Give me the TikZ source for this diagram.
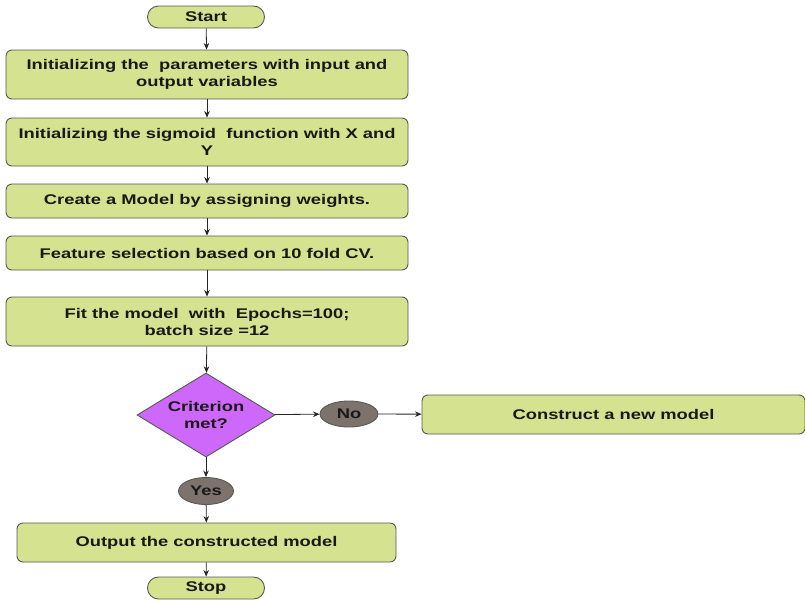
\documentclass[tikz,border=0pt]{standalone}
\usepackage{fontspec}
\setmainfont{Liberation Sans}[FakeStretch=1.31]
\usetikzlibrary{shapes.geometric,arrows.meta}
\definecolor{boxfill}{RGB}{213,226,143}
\definecolor{boxline}{RGB}{85,90,85}
\definecolor{diafill}{RGB}{206,104,250}
\definecolor{ovfill}{RGB}{125,115,108}
\definecolor{txt}{RGB}{25,25,25}
\begin{document}
\begin{tikzpicture}[x=1pt,y=-1pt,
  base/.style={draw=boxline, line width=0.9pt, align=center, text=txt,
    font=\fontsize{14}{17}\selectfont\bfseries, inner sep=0pt},
  procbox/.style={base, fill=boxfill, rounded corners=6pt},
  term/.style={base, fill=boxfill, rounded corners=11pt, minimum width=117pt, minimum height=22pt},
  decis/.style={base, diamond, aspect=1.64, fill=diafill, minimum width=138pt, minimum height=84pt},
  oval/.style={base, ellipse, fill=ovfill},
  conn/.style={draw=black!85, line width=0.8pt, -{Stealth[length=6.5pt,width=5.5pt]}}
]
\useasboundingbox (0,0) rectangle (805,603);
\node[term] (start) at (206,17) {Start};
\node[procbox, minimum width=402pt, minimum height=49pt] (b1) at (207,74.5) {Initializing the \ parameters with input and\\output variables};
\node[procbox, minimum width=402pt, minimum height=48pt] (b2) at (207,142) {Initializing the sigmoid \ function with X and\\Y};
\node[procbox, minimum width=402pt, minimum height=34pt] (b3) at (207,201) {Create a Model by assigning weights.};
\node[procbox, minimum width=402pt, minimum height=34pt] (b4) at (207,253) {Feature selection based on 10 fold CV.};
\node[procbox, minimum width=402pt, minimum height=49pt] (b5) at (207,321.5) {Fit the model \ with \ Epochs=100;\\batch size =12};
\node[decis] (dia) at (206,415) {Criterion\\met?};
\node[oval, minimum width=58pt, minimum height=26pt] (no) at (349,414) {No};
\node[procbox, minimum width=383pt, minimum height=39pt] (new) at (613.5,414.5) {Construct a new model};
\node[oval, minimum width=55pt, minimum height=27pt] (yes) at (206,491) {Yes};
\node[procbox, minimum width=379pt, minimum height=39pt] (out) at (206.5,542.5) {Output the constructed model};
\node[term] (stop) at (206,588) {Stop};
\draw[conn] (start) -- (b1);
\draw[conn] (b1) -- (b2);
\draw[conn] (b2) -- (b3);
\draw[conn] (b3) -- (b4);
\draw[conn] (b4) -- (b5);
\draw[conn] (b5) -- (dia);
\draw[conn] (dia) -- (no);
\draw[conn] (no) -- (new);
\draw[conn] (dia) -- (yes);
\draw[conn] (yes) -- (out);
\draw[conn] (out) -- (stop);
\end{tikzpicture}
\end{document}
